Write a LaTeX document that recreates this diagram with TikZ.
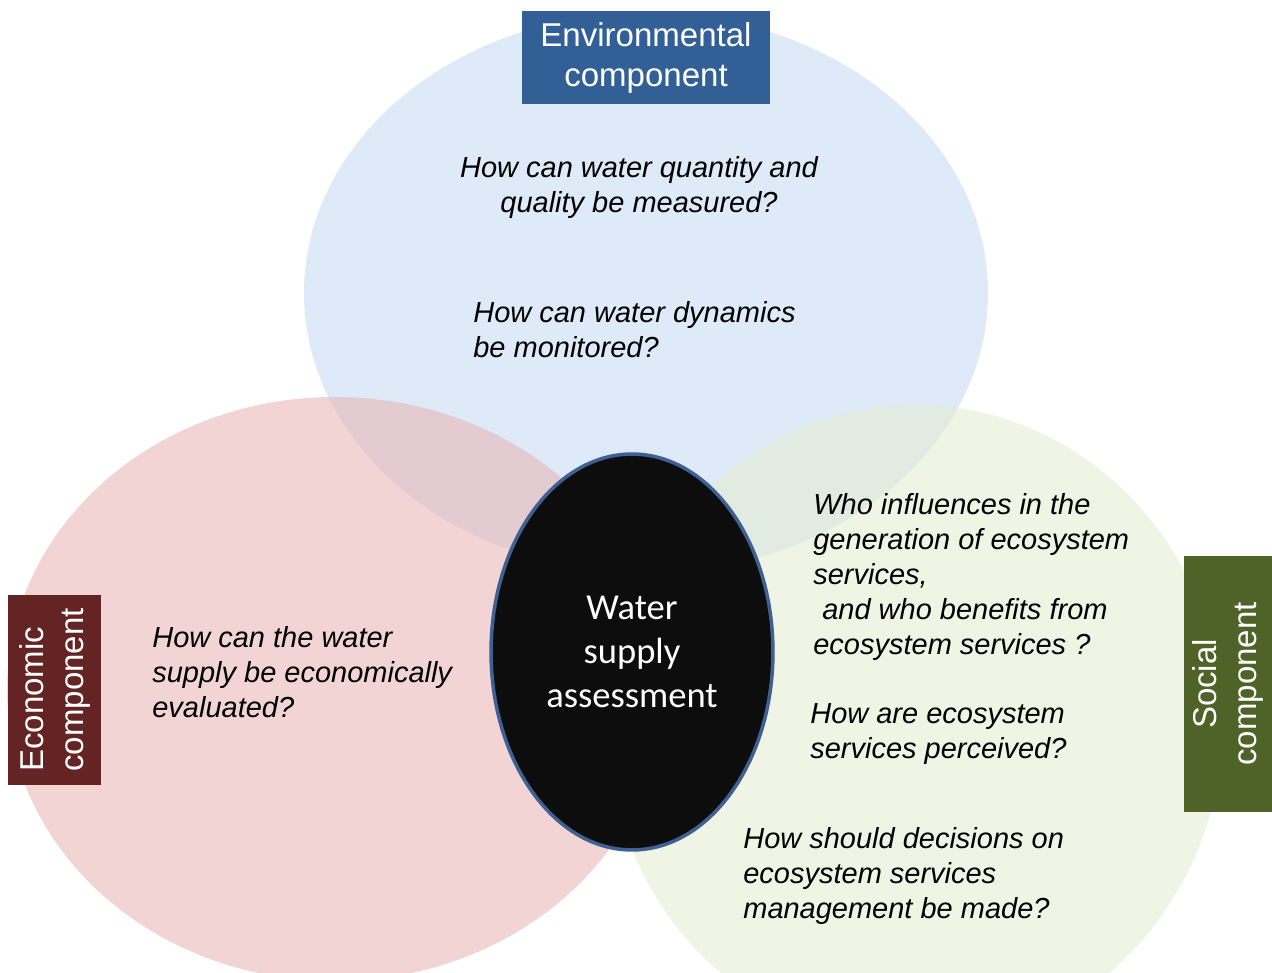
\documentclass[tikz,border=0pt]{standalone}
\usepackage{fontspec}
\setmainfont{Liberation Sans}
\newfontfamily\calfont{Carlito}
\usetikzlibrary{shapes.geometric}

\definecolor{envfill}{RGB}{222,234,248}
\definecolor{ecofill}{RGB}{233,183,183}
\definecolor{socfill}{RGB}{230,237,210}
\definecolor{envbox}{RGB}{49,95,150}
\definecolor{ecobox}{RGB}{99,36,35}
\definecolor{socbox}{RGB}{79,98,40}
\definecolor{rim}{RGB}{62,96,146}

\tikzset{
  question/.style={font=\itshape\fontsize{16.5}{19.9}\selectfont,inner sep=0pt,align=left,anchor=north west},
  compbox/.style={rectangle,text=white,font=\fontsize{18.8}{22.8}\selectfont,inner sep=0pt,align=center},
}

\begin{document}
\begin{tikzpicture}[x=0.02cm,y=-0.02cm]
  \useasboundingbox (0,0) rectangle (1272,973);
  % the three components
  \fill[envfill] (646,293) ellipse [x radius=342, y radius=280];
  \fill[ecofill,fill opacity=.6] (335,689) ellipse [x radius=328, y radius=292];
  \fill[socfill,fill opacity=.6] (915,725) ellipse [x radius=307, y radius=320];
  % centre
  \node[ellipse,fill=black!95,draw=rim,line width=2pt,minimum width=5.64cm,minimum height=7.92cm,
        inner sep=0pt,text=white,align=center,font=\calfont\fontsize{20.8}{25}\selectfont]
        (core) at (632,652) {Water\\supply\\assessment};
  % labels
  \node[compbox,fill=envbox,minimum width=4.96cm,minimum height=1.86cm] (envlabel) at (646,57.5) {Environmental\\component};
  \node[compbox,fill=ecobox,rotate=90,align=left,minimum width=3.8cm,minimum height=1.86cm] (ecolabel) at (54.5,690) {Economic\\component};
  \node[compbox,fill=socbox,rotate=90,minimum width=5.12cm,minimum height=1.76cm] (soclabel) at (1228,684) {Social\\component};
  % questions
  \node[question,align=center,anchor=north] (envq1) at (639,156) {How can water quantity and\\quality be measured?};
  \node[question] (envq2) at (473,301) {How can water dynamics\\be monitored?};
  \node[question] (ecoq) at (152,626) {How can the water\\supply be economically\\evaluated?};
  \node[question] (socq1) at (813,493) {Who influences in the\\generation of ecosystem\\services,\\\hspace*{0.18cm}and who benefits from\\ecosystem services ?};
  \node[question] (socq2) at (810,703) {How are ecosystem\\services perceived?};
  \node[question] (socq3) at (743,827) {How should decisions on\\ecosystem services\\management be made?};
\end{tikzpicture}
\end{document}
